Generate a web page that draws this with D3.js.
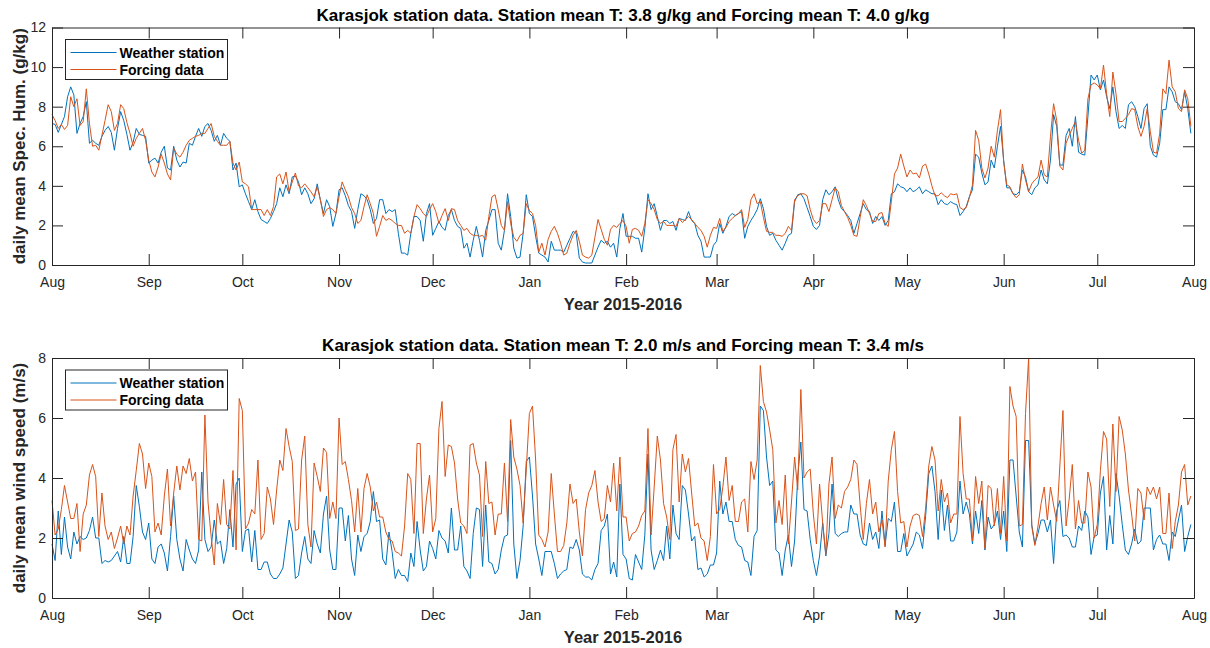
<!DOCTYPE html>
<html>
<head>
<meta charset="utf-8">
<script src="https://cdn.jsdelivr.net/npm/d3@7"></script>
<style>
body { margin: 0; background: #fff; }
</style>
</head>
<body>
<svg id="chart" width="1210" height="648"></svg>
<script>
// daily values, 1 Aug 2015 .. 31 Jul 2016 (366 days)
var startDate = new Date(Date.UTC(2015, 7, 1));
var endDate = new Date(Date.UTC(2016, 7, 1));

var seriesNames = ["Weather station", "Forcing data"];
var seriesColors = ["#0072BD", "#D95319"];

// specific humidity (g/kg)
var humStation = [
7.15,7.1,6.7,7.1,7.5,8.5,9.0,8.6,6.65,7.15,
7.5,8.25,6.15,6.3,6.15,6.05,6.5,6.8,7.0,6.7,
5.8,6.9,7.75,7.3,6.6,5.8,6.2,6.9,6.6,6.55,
6.5,5.15,5.3,5.4,5.15,5.7,6.0,4.9,4.8,6.0,
5.3,4.95,5.2,5.15,6.15,6.05,6.5,6.9,6.5,7.0,
7.15,6.8,6.25,6.55,6.05,6.65,6.4,6.25,4.8,5.15,
3.95,4.05,3.6,3.2,2.8,3.3,2.7,2.3,2.2,2.1,
2.35,2.7,3.1,3.9,3.45,4.05,3.6,4.45,4.5,4.2,
3.55,3.9,3.6,3.1,3.35,4.1,3.3,2.6,3.3,2.95,
1.95,2.6,3.8,3.9,3.5,3.0,2.7,1.85,2.8,3.6,
3.5,3.3,2.8,2.1,2.35,3.3,3.3,2.6,2.8,2.7,
2.8,1.6,0.6,0.6,0.5,1.6,2.45,2.45,2.25,1.2,
2.6,3.1,1.5,1.85,2.2,1.9,1.75,2.5,2.8,2.25,
1.95,1.85,0.85,1.1,0.4,1.25,1.95,1.25,0.4,1.75,
2.25,2.8,2.8,1.1,0.75,1.75,3.6,2.45,0.85,0.35,
0.4,1.6,3.55,2.6,2.45,1.45,0.6,0.5,0.4,0.15,
1.2,0.75,0.75,0.75,0.65,1.0,1.35,1.7,1.6,0.35,
0.15,0.1,0.1,0.1,0.5,0.9,1.25,1.1,1.2,0.9,
1.1,0.4,1.85,2.6,1.45,1.45,1.45,1.35,1.35,0.65,
1.85,3.6,2.8,3.1,2.45,1.75,2.25,2.25,2.1,2.2,
1.75,2.35,2.3,2.25,2.7,2.25,2.1,1.5,1.2,0.4,
0.4,0.4,1.0,1.2,2.1,1.6,1.95,2.45,2.6,2.5,
2.6,2.7,1.35,1.95,2.25,2.5,2.8,3.35,2.85,1.95,
1.5,1.6,1.25,1.0,0.75,1.1,1.5,1.6,3.2,3.55,
3.6,3.35,2.9,2.45,1.95,1.8,2.0,3.3,3.8,3.55,
3.7,3.95,3.3,2.85,2.7,2.5,2.25,1.6,2.1,2.6,
3.1,2.8,2.7,2.1,2.45,2.25,2.45,2.0,2.25,3.6,
3.7,4.1,3.95,3.9,3.7,3.9,3.7,3.8,3.95,3.6,
3.8,3.7,3.6,3.6,3.05,3.3,3.1,3.05,3.2,3.1,
3.05,2.5,2.7,2.95,3.45,3.8,5.6,5.45,4.65,4.05,
4.2,5.3,4.9,6.0,7.0,5.3,3.9,3.9,3.6,3.55,
3.7,4.8,4.45,3.7,3.55,3.9,4.05,4.8,4.3,4.1,
5.3,7.6,7.0,5.05,5.05,6.55,6.9,6.0,7.5,5.7,
5.6,5.55,7.5,9.6,9.35,9.6,8.85,9.35,8.5,7.9,
9.0,7.75,6.9,7.05,6.9,8.1,8.25,8.0,7.5,6.9,
7.9,8.15,6.0,5.55,5.45,6.15,7.85,7.85,9.0,8.75,
8.25,8.15,7.85,8.75,7.9,6.65
];

var humForcing = [
7.6,7.3,6.9,7.1,6.85,7.05,8.5,8.0,8.4,7.05,
7.25,8.9,7.15,6.0,6.05,5.8,6.55,7.3,8.1,7.75,
6.8,7.15,8.1,7.9,7.2,6.65,6.0,6.4,6.65,6.9,
6.3,5.3,4.7,4.45,4.95,5.6,5.15,4.6,4.3,5.9,
5.6,5.45,5.7,6.05,6.3,6.4,6.5,6.55,6.65,6.65,
6.9,7.15,6.5,6.25,6.05,6.05,6.05,6.25,5.15,4.8,
5.2,4.2,4.1,3.95,2.8,2.8,2.8,2.8,2.5,2.8,
2.5,2.95,4.45,4.6,4.1,4.7,3.7,4.2,4.65,4.0,
3.9,4.1,3.9,3.7,3.45,3.95,3.3,2.45,2.8,2.9,
2.8,2.6,3.45,4.2,3.8,3.45,2.9,2.6,2.1,2.25,
2.95,3.55,3.1,2.6,1.45,1.95,2.5,2.25,2.35,2.25,
2.1,2.0,2.0,1.6,1.75,1.6,2.45,3.05,2.85,2.6,
2.45,2.8,3.1,2.7,2.1,2.5,2.85,2.25,2.85,2.8,
2.25,2.0,1.75,1.85,1.6,1.5,1.5,1.45,1.5,1.25,
2.45,3.45,3.55,2.8,2.0,1.75,3.2,2.1,1.4,1.2,
1.5,1.6,3.1,2.75,2.6,2.0,0.65,1.1,0.5,1.3,
1.7,1.95,1.6,1.1,0.5,0.6,1.1,1.5,1.75,1.2,
0.5,0.4,0.35,0.5,1.4,2.3,1.8,1.3,1.0,1.8,
2.0,1.9,2.1,2.25,1.95,1.1,1.8,1.85,1.75,1.45,
2.1,3.3,3.1,2.8,2.3,2.1,2.2,2.0,2.0,2.0,
1.95,2.35,2.15,2.3,2.45,2.3,2.1,1.9,1.75,1.45,
0.9,1.5,1.9,1.85,2.35,1.7,1.9,2.2,2.35,2.5,
2.6,2.8,1.9,2.3,3.3,3.6,3.1,3.2,2.4,1.7,
1.65,1.65,1.5,1.5,1.45,1.6,1.95,1.75,3.3,3.5,
3.6,3.6,3.5,2.8,2.3,2.1,2.25,3.1,3.1,2.7,
3.3,3.9,3.7,3.0,2.7,2.4,2.0,1.5,1.45,2.4,
3.3,3.0,2.6,2.2,2.2,2.6,2.65,2.1,1.95,3.2,
4.6,4.9,5.6,5.0,4.45,4.8,4.6,4.65,4.4,5.0,
5.1,4.6,4.0,3.5,3.5,3.65,3.5,3.4,3.6,3.55,
3.6,2.9,2.8,2.9,3.4,4.05,6.8,6.3,4.9,4.4,
4.9,6.0,5.45,6.8,7.85,5.2,4.05,3.95,3.6,3.4,
3.55,5.1,4.3,3.7,4.1,4.3,4.45,5.3,4.55,4.45,
6.5,8.15,7.3,5.0,4.8,6.15,6.55,6.9,7.25,6.3,
5.65,5.8,8.4,9.1,9.2,9.1,8.9,10.1,8.65,7.5,
9.75,8.65,7.25,7.25,7.4,7.6,7.9,7.85,7.0,6.5,
7.0,7.9,6.75,5.7,5.65,6.65,8.9,8.65,10.35,9.0,
8.75,7.9,7.75,8.85,8.4,7.0
];

// wind speed (m/s)
var windStation = [
1.8,1.25,2.9,1.45,2.7,1.7,1.3,2.2,1.8,2.05,
1.95,2.0,2.25,2.7,2.0,2.0,1.15,1.25,1.2,1.25,
1.4,1.55,1.2,2.05,1.15,1.15,2.05,3.75,3.05,2.2,
1.95,2.5,1.3,1.15,1.7,1.8,1.5,0.9,2.05,3.4,
1.95,1.3,0.9,1.95,1.6,1.3,1.15,1.6,4.2,1.95,
1.55,1.7,2.6,1.8,1.9,1.15,1.65,2.95,1.7,3.8,
4.0,1.55,2.25,2.3,1.2,2.25,0.95,0.95,1.2,1.2,
0.8,0.65,0.65,0.8,1.0,1.8,2.6,2.2,0.65,0.75,
1.5,2.05,1.3,1.15,2.25,1.8,1.5,2.8,3.4,1.6,
0.95,0.95,3.0,3.0,1.9,2.75,1.3,0.75,2.1,1.55,
2.05,2.15,2.55,3.55,2.55,2.6,1.3,1.1,2.2,1.55,
0.65,0.95,0.75,0.75,0.55,1.5,1.05,2.55,1.6,0.9,
1.05,1.9,1.65,1.3,2.25,2.0,1.9,1.5,3.0,1.6,
1.6,2.4,1.05,0.9,0.65,2.15,3.0,2.95,1.05,3.1,
1.2,1.15,0.8,0.95,1.6,2.05,2.1,5.25,1.8,0.65,
1.25,2.4,4.55,4.7,3.4,1.8,1.3,0.75,1.55,1.55,
1.55,1.15,0.65,0.8,0.9,0.95,1.7,1.65,1.95,1.6,
0.8,0.7,0.7,0.6,0.95,1.15,2.25,2.4,2.8,0.8,
1.2,0.7,3.8,1.45,1.3,0.65,0.6,1.45,1.2,0.95,
2.1,4.8,1.6,0.95,1.25,1.6,1.25,2.4,1.3,3.1,
2.15,1.95,3.75,3.6,2.8,1.9,2.05,0.95,1.0,0.7,
0.8,1.1,1.1,1.5,3.9,2.8,3.2,2.55,2.55,1.95,
1.75,1.7,1.25,1.2,0.75,2.05,2.25,6.4,6.25,4.7,
3.75,3.9,1.6,1.5,0.75,1.6,2.1,1.05,1.9,4.05,
5.2,2.95,2.9,1.95,1.25,0.75,1.4,2.5,1.4,2.15,
3.8,2.15,2.05,2.15,2.2,2.2,3.1,2.8,2.8,2.1,
1.8,1.75,2.5,1.95,2.2,1.65,2.9,1.75,2.65,2.55,
3.2,1.55,1.55,2.15,1.4,1.6,1.8,2.2,2.1,1.65,
2.75,4.15,4.4,3.55,1.95,3.6,2.25,3.1,1.9,1.9,
2.2,3.9,2.8,3.2,2.8,1.8,2.9,2.15,3.25,1.6,
2.7,2.3,2.45,2.9,1.95,2.9,1.55,4.6,4.6,3.4,
2.2,1.7,5.25,5.25,2.45,1.8,2.15,2.6,2.6,2.2,
2.6,1.15,2.9,3.25,2.05,2.1,2.0,1.7,1.7,2.4,
2.25,2.9,2.7,1.45,2.05,2.1,3.5,4.05,1.6,2.75,
1.8,4.15,3.4,2.45,1.6,1.45,1.8,2.3,1.8,1.9,
3.0,3.0,3.0,1.6,1.95,2.1,1.8,1.8,1.25,2.2,
2.05,2.6,3.1,1.55,2.05,2.45
];

var windForcing = [
3.25,2.1,2.3,2.95,3.75,3.2,2.65,2.65,3.15,1.55,
2.8,3.1,4.1,4.45,4.05,2.05,3.5,2.4,1.95,2.2,
1.65,2.0,2.4,1.8,2.4,2.1,3.4,4.25,5.15,4.8,
3.65,4.5,4.05,2.2,2.5,2.1,3.4,4.3,2.4,3.5,
4.4,3.6,4.4,4.15,4.65,3.9,4.2,1.95,1.9,6.1,
3.2,2.05,1.1,3.15,2.45,3.95,2.45,2.3,4.25,1.6,
6.65,6.25,2.3,2.5,2.95,2.8,4.6,1.95,2.15,3.7,
3.3,2.45,3.6,4.6,4.25,5.65,5.05,4.55,2.25,2.3,
4.6,5.4,2.45,1.7,4.5,4.05,3.55,5.0,4.85,2.65,
3.2,2.65,6.0,4.45,4.55,3.95,3.25,2.2,3.65,2.2,
3.65,4.15,3.7,2.9,3.2,2.7,2.7,2.2,1.95,1.9,
1.55,1.5,1.4,2.4,4.15,3.95,2.15,5.15,5.15,2.15,
3.3,4.1,2.2,2.65,5.65,6.55,4.05,5.1,5.05,4.5,
3.3,2.5,2.4,2.15,5.1,5.15,4.5,4.1,2.05,4.55,
3.15,3.2,2.1,2.8,2.8,4.5,2.55,5.95,4.7,4.3,
3.75,2.5,4.3,6.15,6.4,4.6,2.1,1.95,1.7,2.2,
4.15,2.8,1.55,1.55,1.75,2.5,3.8,3.15,3.3,2.2,
1.4,2.95,3.5,3.75,4.25,3.2,2.55,2.65,3.75,3.2,
4.5,2.9,4.7,2.7,2.7,1.9,2.15,2.2,2.4,2.75,
2.9,5.65,2.1,3.7,5.4,4.6,3.15,2.7,1.95,4.95,
5.45,3.2,4.8,4.2,4.65,3.5,2.4,2.5,2.0,1.9,
1.25,2.05,4.45,2.8,2.95,3.7,4.7,3.25,3.75,2.55,
2.55,3.2,3.3,2.2,4.55,3.95,4.6,7.75,6.55,6.2,
5.6,4.95,2.5,3.25,2.45,4.1,1.8,3.2,4.7,3.6,
6.95,4.0,4.2,4.3,2.8,1.8,3.8,2.5,1.45,3.8,
4.7,2.65,3.1,3.0,3.55,3.7,3.95,4.6,4.45,3.1,
1.95,3.15,3.95,2.8,3.2,2.2,2.6,1.7,3.9,4.95,
5.55,3.55,2.5,2.55,1.7,2.4,2.75,2.8,2.75,2.05,
3.0,4.4,5.05,4.6,2.9,3.95,3.2,3.5,2.5,2.8,
2.8,6.05,4.15,3.3,3.3,1.9,4.05,3.15,3.9,1.65,
3.75,3.65,2.4,3.65,2.15,4.05,1.9,7.05,6.4,6.05,
2.4,2.45,6.15,8.0,2.4,1.75,2.4,3.15,3.7,2.6,
3.7,3.1,2.55,4.4,6.25,2.4,3.3,4.45,2.3,3.25,
2.5,2.5,4.2,3.7,2.0,2.45,4.25,5.55,5.3,3.05,
5.8,3.55,6.05,5.6,4.8,3.6,2.8,1.9,3.65,3.5,
2.6,3.7,3.45,3.7,3.3,3.7,2.15,2.15,3.5,1.65,
2.55,3.1,4.2,4.45,3.1,3.4
];

var humTicks = [0, 2, 4, 6, 8, 10, 12];
var windTicks = [0, 2, 4, 6, 8];

var panels = [
	{
		title: "Karasjok station data. Station mean T: 3.8 g/kg and Forcing mean T: 4.0 g/kg",
		ylabel: "daily mean Spec. Hum. (g/kg)",
		top: 27.5, bottom: 265, ymax: 12, yticks: humTicks,
		series: [humStation, humForcing]
	},
	{
		title: "Karasjok station data. Station mean T: 2.0 m/s and Forcing mean T: 3.4 m/s",
		ylabel: "daily mean wind speed (m/s)",
		top: 358, bottom: 598, ymax: 8, yticks: windTicks,
		series: [windStation, windForcing]
	}
];

var svg = d3.select("#chart");
var left = 52, right = 1194;
var fontFam = "'Liberation Sans', Arial, Helvetica, sans-serif";
var axisCol = "#262626";

var x = d3.scaleUtc().domain([startDate, endDate]).range([left, right]);
var monthTicks = d3.utcMonth.range(startDate, d3.utcDay.offset(endDate, 1));

function styleAxis(g) {
	g.attr("font-family", fontFam).attr("font-size", 14);
	g.select(".domain").attr("stroke", axisCol).attr("stroke-width", 1);
	g.selectAll(".tick line").attr("stroke", axisCol);
	g.selectAll(".tick text").attr("fill", axisCol);
}

function drawPanel(p) {
	var y = d3.scaleLinear().domain([0, p.ymax]).range([p.bottom, p.top]);
	var g = svg.append("g");

	// data lines, forcing drawn last so it sits on top
	p.series.forEach(function(vals, k) {
		var line = d3.line()
			.x(function(d, i) { return x(d3.utcDay.offset(startDate, i)); })
			.y(function(d) { return y(d); });
		g.append("path")
			.datum(vals)
			.attr("fill", "none")
			.attr("stroke", seriesColors[k])
			.attr("stroke-width", 1)
			.attr("stroke-linejoin", "round")
			.attr("d", line);
	});

	// box with inward ticks on all four sides
	g.append("g").attr("transform", "translate(0," + p.bottom + ")")
		.call(d3.axisBottom(x).tickValues(monthTicks).tickFormat(d3.utcFormat("%b"))
			.tickSizeInner(-11).tickSizeOuter(0).tickPadding(12))
		.call(styleAxis);
	g.append("g").attr("transform", "translate(0," + p.top + ")")
		.call(d3.axisTop(x).tickValues(monthTicks).tickFormat("")
			.tickSizeInner(-11).tickSizeOuter(0))
		.call(styleAxis);
	g.append("g").attr("transform", "translate(" + left + ",0)")
		.call(d3.axisLeft(y).tickValues(p.yticks).tickFormat(d3.format("d"))
			.tickSizeInner(-11).tickSizeOuter(0).tickPadding(6))
		.call(styleAxis);
	g.append("g").attr("transform", "translate(" + right + ",0)")
		.call(d3.axisRight(y).tickValues(p.yticks).tickFormat("")
			.tickSizeInner(-11).tickSizeOuter(0))
		.call(styleAxis);

	// texts
	g.append("text")
		.attr("x", (left + right) / 2).attr("y", p.top - 7)
		.attr("text-anchor", "middle")
		.attr("font-family", fontFam).attr("font-size", 17).attr("font-weight", "bold")
		.attr("fill", "#000")
		.text(p.title);
	g.append("text")
		.attr("x", (left + right) / 2).attr("y", p.bottom + 45)
		.attr("text-anchor", "middle")
		.attr("font-family", fontFam).attr("font-size", 16.5).attr("font-weight", "bold")
		.attr("fill", axisCol)
		.text("Year 2015-2016");
	g.append("text")
		.attr("transform", "translate(25," + ((p.top + p.bottom) / 2) + ") rotate(-90)")
		.attr("text-anchor", "middle")
		.attr("font-family", fontFam).attr("font-size", 17).attr("font-weight", "bold")
		.attr("fill", axisCol)
		.text(p.ylabel);

	// legend
	var lg = g.append("g").attr("transform", "translate(65.5," + (p.top + 12) + ")");
	lg.append("rect")
		.attr("width", 162).attr("height", 40)
		.attr("fill", "#fff").attr("stroke", axisCol).attr("stroke-width", 1);
	seriesNames.forEach(function(name, k) {
		var ly = 13 + k * 17;
		lg.append("line")
			.attr("x1", 5).attr("x2", 51).attr("y1", ly).attr("y2", ly)
			.attr("stroke", seriesColors[k]).attr("stroke-width", 1);
		lg.append("text")
			.attr("x", 54).attr("y", ly + 5)
			.attr("font-family", fontFam).attr("font-size", 14).attr("font-weight", "bold")
			.attr("fill", "#000")
			.text(name);
	});
}

panels.forEach(drawPanel);
</script>
</body>
</html>
